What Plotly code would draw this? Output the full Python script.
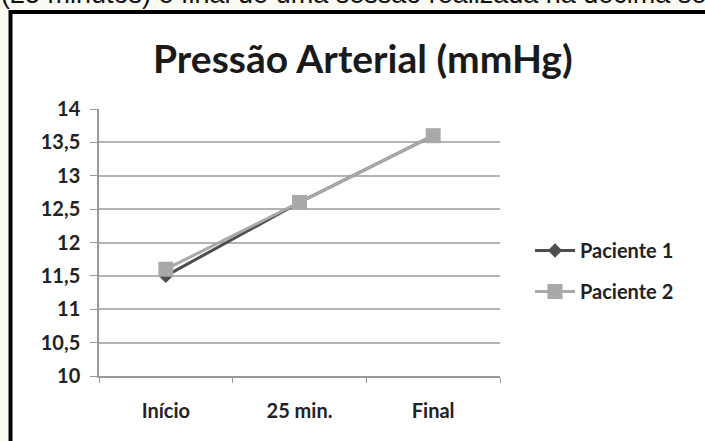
import plotly.graph_objects as go

categories = ["Início", "25 min.", "Final"]
paciente1 = [11.5, 12.6, 13.6]
paciente2 = [11.6, 12.6, 13.6]
series_names = ["Paciente 1", "Paciente 2"]

W, H = 705, 441
L, R, T, B = 99, 500, 109, 376

def px(x):
    return (x - L) / (R - L)

def py(y):
    return (B - y) / (B - T)

fig = go.Figure()
fig.add_trace(go.Scatter(
    x=categories, y=paciente1, name=series_names[0], mode="lines+markers",
    legendgroup="p1",
    line=dict(color="#4d4d4d", width=3),
    marker=dict(symbol="diamond", size=11, color="#4d4d4d"),
))
fig.add_trace(go.Scatter(
    x=categories, y=paciente2, name=series_names[1], mode="lines+markers",
    legendgroup="p2",
    line=dict(color="#a9a9a9", width=3),
    marker=dict(symbol="square", size=15, color="#a9a9a9"),
))

fig.update_layout(
    width=W, height=H,
    margin=dict(l=L, r=W - R, t=T, b=H - B),
    paper_bgcolor="#fbfbf4",
    plot_bgcolor="white",
    separators=",.",
    font=dict(family="Lato, 'Open Sans', sans-serif", color="#333333"),
    showlegend=True,
    legend=dict(
        x=px(530), y=py(231), xanchor="left", yanchor="top",
        font=dict(size=20, color="#222222", family="Lato", weight="bold"),
        bgcolor="rgba(0,0,0,0)", tracegroupgap=12, itemwidth=40,
    ),
    shapes=[
        dict(type="rect", xref="paper", yref="paper",
             x0=px(10.5), x1=px(730), y0=py(480), y1=py(12),
             fillcolor="white", line=dict(color="black", width=4), layer="below"),
    ],
    annotations=[
        dict(text="<b>Pressão Arterial (mmHg)</b>", xref="paper", yref="paper",
             x=px(363), y=py(58), xanchor="center", yanchor="middle",
             showarrow=False, font=dict(size=39, color="#1a1a1a", family="Lato")),
        dict(text="(25 minutos) e final de uma sessão realizada na décima se", xref="paper", yref="paper",
             x=px(-1), y=py(11), xanchor="left", yanchor="bottom",
             showarrow=False, font=dict(size=27, color="#111111", family="Liberation Sans")),
    ],
)

fig.update_xaxes(
    range=[-0.5, 2.5], tickson="boundaries", ticks="outside", ticklen=5,
    tickcolor="#999999", showline=True, linecolor="#999999", linewidth=1.5,
    showgrid=False, tickfont=dict(size=20, color="#222222", family="Lato", weight="bold"),
    ticklabelstandoff=16,
)
fig.update_yaxes(
    range=[10, 14], dtick=0.5, ticks="outside", ticklen=7,
    tickcolor="#999999", showline=True, linecolor="#999999", linewidth=1.5,
    showgrid=True, gridcolor="#b3b3b3", gridwidth=1.5,
    tickfont=dict(size=20, color="#222222", family="Lato", weight="bold"),
    ticklabelstandoff=6,
    zeroline=False,
)

fig.write_html("out.html", config={"displayModeBar": False},
               post_script="document.body.style.margin='0';document.body.style.overflow='hidden';")
